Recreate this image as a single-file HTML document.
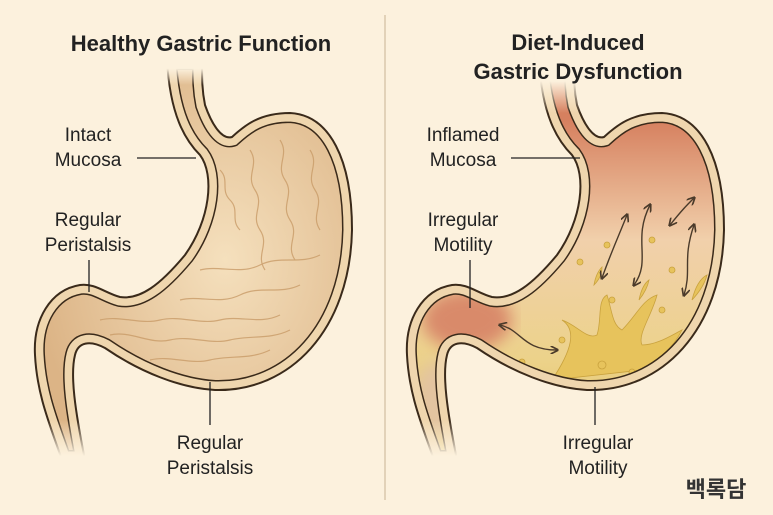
<!DOCTYPE html>
<html><head><meta charset="utf-8"><style>
html,body{margin:0;padding:0;background:#fcf1dd;}
svg{display:block}
text{font-family:"Liberation Sans","Noto Sans CJK KR",sans-serif;fill:#222;}
</style></head><body>
<svg width="773" height="515" viewBox="0 0 773 515" xmlns="http://www.w3.org/2000/svg">
<defs>
<path id="P" d="M167,60 C170,115 185,140 200,155 C215,175 210,220 185,255 C160,285 140,300 120,297 C105,293 95,283 80,285 C50,290 33,320 35,355 C37,395 50,425 62,460 L85,460 C75,410 70,375 75,355 C78,342 90,340 105,348 C140,372 180,388 215,390 C290,392 350,330 352,230 C352,160 330,115 290,113 C260,113 245,125 232,137 C222,140 212,125 205,105 C202,90 202,80 202,60 Z"/>
<clipPath id="C"><use href="#P"/></clipPath>
<radialGradient id="gL" cx="0.6" cy="0.5" r="0.6"><stop offset="0" stop-color="#f5e0bd"/><stop offset="1" stop-color="#dcb486"/></radialGradient>
<linearGradient id="gR" x1="0" y1="0" x2="0" y2="1"><stop offset="0.15" stop-color="#d6805f"/><stop offset="0.45" stop-color="#f1d0ab"/><stop offset="0.75" stop-color="#ecd28a"/><stop offset="1" stop-color="#e2c15e"/></linearGradient>
<linearGradient id="fadeT" x1="0" y1="0" x2="0" y2="1"><stop offset="0.45" stop-color="#fcf1dd" stop-opacity="1"/><stop offset="1" stop-color="#fcf1dd" stop-opacity="0"/></linearGradient>
<linearGradient id="fadeB" x1="0" y1="0" x2="0" y2="1"><stop offset="0" stop-color="#fcf1dd" stop-opacity="0"/><stop offset="0.8" stop-color="#fcf1dd" stop-opacity="1"/></linearGradient>
<filter id="bl"><feGaussianBlur stdDeviation="8"/></filter>
<marker id="ah" viewBox="0 0 10 10" refX="8" refY="5" markerWidth="6" markerHeight="6" orient="auto-start-reverse"><path d="M0,0 L10,5 L0,10" fill="none" stroke="#4a3a2a" stroke-width="2"/></marker>
</defs>
<rect width="773" height="515" fill="#fcf1dd"/>
<line x1="385" y1="15" x2="385" y2="500" stroke="#d9c7ab" stroke-width="1.5"/>

<g>
<g clip-path="url(#C)">
<use href="#P" fill="url(#gL)"/>
<g fill="none" stroke="#c99b68" stroke-width="1.2" opacity="0.8">
<path d="M220,170 c10,10 0,20 10,30 s0,20 10,30"/>
<path d="M250,150 c10,15 -5,25 5,40 s-5,25 5,40 s-5,25 5,40"/>
<path d="M280,140 c10,15 -5,25 5,40 s-5,25 5,40 s-5,25 5,40"/>
<path d="M310,150 c10,15 -5,25 5,40 s-5,25 5,40"/>
<path d="M100,320 c20,-5 40,5 60,0 s40,5 60,0 s40,5 60,-5"/>
<path d="M110,335 c20,-5 40,10 60,5 s40,5 60,0 s40,0 60,-10"/>
<path d="M150,360 c20,-5 40,5 60,0 s40,0 60,-10"/>
<path d="M180,300 c20,-5 40,5 60,-5 s40,0 60,-10"/>
<path d="M200,270 c20,-5 40,5 60,-5 s40,0 60,-10"/>
</g>
<use href="#P" fill="none" stroke="#3a2a1a" stroke-width="20"/>
<use href="#P" fill="none" stroke="#efd6ae" stroke-width="17"/>
</g>
<use href="#P" fill="none" stroke="#3a2a1a" stroke-width="2"/>
</g>
<rect x="150" y="55" width="70" height="30" fill="url(#fadeT)"/>

<g transform="translate(372,0)">
<g clip-path="url(#C)">
<use href="#P" fill="url(#gR)"/>
<ellipse cx="95" cy="320" rx="45" ry="30" fill="#d98a6a" filter="url(#bl)"/>
<ellipse cx="70" cy="400" rx="30" ry="40" fill="#e3c4a0" filter="url(#bl)"/>
<g fill="#e7c35c" stroke="#c9a23e" stroke-width="0.8">
<path d="M180,380 C200,350 205,330 190,320 C205,325 215,340 225,335 C230,320 225,300 235,295 C240,310 240,325 250,330 C265,315 270,300 285,295 C280,315 265,335 270,345 C285,345 300,335 310,330 C300,350 285,360 270,370 Z"/>
<circle cx="208" cy="262" r="3"/><circle cx="235" cy="245" r="3"/><circle cx="280" cy="240" r="3"/><circle cx="300" cy="270" r="3"/><circle cx="240" cy="300" r="3"/><circle cx="190" cy="340" r="3"/><circle cx="230" cy="365" r="4"/><circle cx="260" cy="372" r="3"/><circle cx="150" cy="362" r="3"/><circle cx="290" cy="310" r="3"/>
<path d="M267,300 q3,-15 10,-20 q-2,10 -10,20Z"/><path d="M320,300 q5,-20 15,-25 q-3,12 -15,25Z"/><path d="M222,285 q2,-12 8,-18 q0,10 -8,18Z"/>
</g>
<g fill="none" stroke="#4a3a2a" stroke-width="1.4" marker-start="url(#ah)" marker-end="url(#ah)">
<path d="M230,278 C240,250 245,240 255,215"/>
<path d="M262,285 C280,260 260,240 278,205"/>
<path d="M298,225 C310,210 315,205 322,198"/>
<path d="M312,295 C320,270 310,260 322,225"/>
<path d="M128,325 C150,330 150,350 185,350"/>
</g>
<use href="#P" fill="none" stroke="#3a2a1a" stroke-width="20"/>
<use href="#P" fill="none" stroke="#efd6ae" stroke-width="17"/>
</g>
<use href="#P" fill="none" stroke="#3a2a1a" stroke-width="2"/>
</g>
<rect x="520" y="55" width="70" height="58" fill="url(#fadeT)"/>
<rect x="20" y="420" width="80" height="45" fill="url(#fadeB)"/>
<rect x="392" y="420" width="80" height="45" fill="url(#fadeB)"/>

<text x="201" y="51" font-size="22" text-anchor="middle" font-weight="bold">Healthy Gastric Function</text>
<text x="578" y="50" font-size="22" text-anchor="middle" font-weight="bold">Diet-Induced</text>
<text x="578" y="79" font-size="22" text-anchor="middle" font-weight="bold">Gastric Dysfunction</text>

<g font-size="19">
<text x="88" y="141" text-anchor="middle">Intact</text>
<text x="88" y="166" text-anchor="middle">Mucosa</text>
<text x="88" y="226" text-anchor="middle">Regular</text>
<text x="88" y="251" text-anchor="middle">Peristalsis</text>
<text x="210" y="449" text-anchor="middle">Regular</text>
<text x="210" y="474" text-anchor="middle">Peristalsis</text>
<text x="463" y="141" text-anchor="middle">Inflamed</text>
<text x="463" y="166" text-anchor="middle">Mucosa</text>
<text x="463" y="226" text-anchor="middle">Irregular</text>
<text x="463" y="251" text-anchor="middle">Motility</text>
<text x="598" y="449" text-anchor="middle">Irregular</text>
<text x="598" y="474" text-anchor="middle">Motility</text>
</g>
<g stroke="#222" stroke-width="1.3">
<line x1="137" y1="158" x2="196" y2="158"/>
<line x1="89" y1="260" x2="89" y2="292"/>
<line x1="210" y1="382" x2="210" y2="425"/>
<line x1="511" y1="158" x2="580" y2="158"/>
<line x1="470" y1="260" x2="470" y2="308"/>
<line x1="595" y1="387" x2="595" y2="425"/>
</g>
<text x="716" y="497" font-size="22" font-weight="bold" text-anchor="middle" style="fill:#333">백록담</text>
</svg>
</body></html>
